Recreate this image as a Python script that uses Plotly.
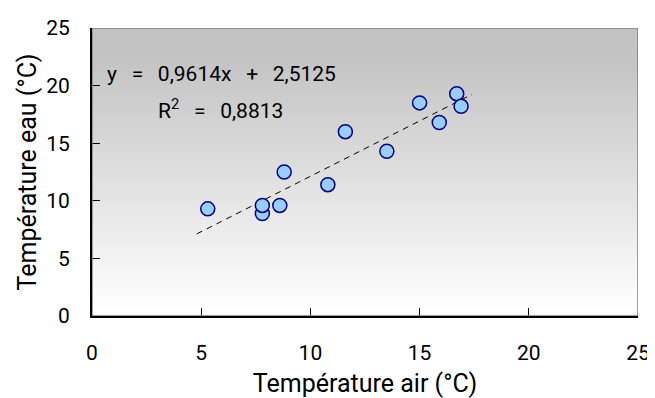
import plotly.graph_objects as go

# Data
air_temp = [5.3, 7.8, 7.8, 8.6, 8.8, 10.8, 11.6, 13.5, 15.0, 15.9, 16.7, 16.9]
water_temp = [9.3, 8.9, 9.6, 9.6, 12.5, 11.4, 16.0, 14.3, 18.5, 16.8, 19.3, 18.2]
slope = 0.9614
intercept = 2.5125
r2 = 0.8813
tick_vals = [0, 5, 10, 15, 20, 25]
eq_text = "y = 0,9614x + 2,5125"
r2_text = "R<sup>2</sup> = 0,8813"

font_family = "Roboto, Liberation Sans, Arial, sans-serif"
wide_space = "\u00a0\u00a0\u2009"

# trend line spanning the data range plus a small extension
x0 = min(air_temp) - 0.5
x1 = max(air_temp) + 0.5
trend_x = [x0, x1]
trend_y = [slope * x + intercept for x in trend_x]

fig = go.Figure()

# gradient background (grey at top to white at bottom)
fig.add_trace(go.Heatmap(
    x=[0, 25], y=[0, 25], z=[[0, 0], [1, 1]],
    zsmooth="best",
    colorscale=[[0, "#ffffff"], [0.05, "#fdfdfd"], [0.9, "#c3c3c3"], [1, "#c2c2c2"]],
    showscale=False, hoverinfo="skip",
))

fig.add_trace(go.Scatter(
    x=trend_x, y=trend_y, mode="lines",
    line=dict(color="black", width=1, dash="6px,5px"),
    hoverinfo="skip", showlegend=False,
))

fig.add_trace(go.Scatter(
    x=air_temp, y=water_temp, mode="markers",
    marker=dict(size=14, color="#99ccff", line=dict(color="#000080", width=1.5)),
    showlegend=False,
))

fig.add_shape(type="rect", xref="x", yref="y", x0=0, x1=25, y0=0, y1=25,
              line=dict(color="#808080", width=1.5), layer="above")

fig.add_annotation(
    x=0.6, y=21.0, xref="x", yref="y", xanchor="left", yanchor="middle",
    text=eq_text.replace(" ", wide_space), showarrow=False,
    font=dict(family=font_family, size=21, color="black"),
)
fig.add_annotation(
    x=2.95, y=18.0, xref="x", yref="y", xanchor="left", yanchor="middle",
    text=r2_text.replace(" ", wide_space), showarrow=False,
    font=dict(family=font_family, size=21, color="black"),
)

# the page body adds an 8px margin, so the figure is sized to fit the window
fig.update_layout(
    width=647, height=390,
    margin=dict(l=84, r=17, t=20, b=82),
    paper_bgcolor="white", plot_bgcolor="white",
    font=dict(family=font_family, size=21, color="black"),
    showlegend=False,
)
fig.update_xaxes(
    range=[0, 25], tickvals=tick_vals, ticks="inside", ticklen=8, tickcolor="black",
    showline=True, linecolor="black", linewidth=2, showgrid=False, zeroline=False,
    title=dict(text="Température air (°C)", standoff=15),
    ticklabelstandoff=17, automargin=False,
)
fig.update_yaxes(
    range=[0, 25], tickvals=tick_vals, ticks="inside", ticklen=8, tickcolor="black",
    showline=True, linecolor="black", linewidth=2, showgrid=False, zeroline=False,
    title=dict(text="Température eau (°C)", standoff=2),
    ticklabelstandoff=16, automargin=False,
)

fig.write_html("out.html")
